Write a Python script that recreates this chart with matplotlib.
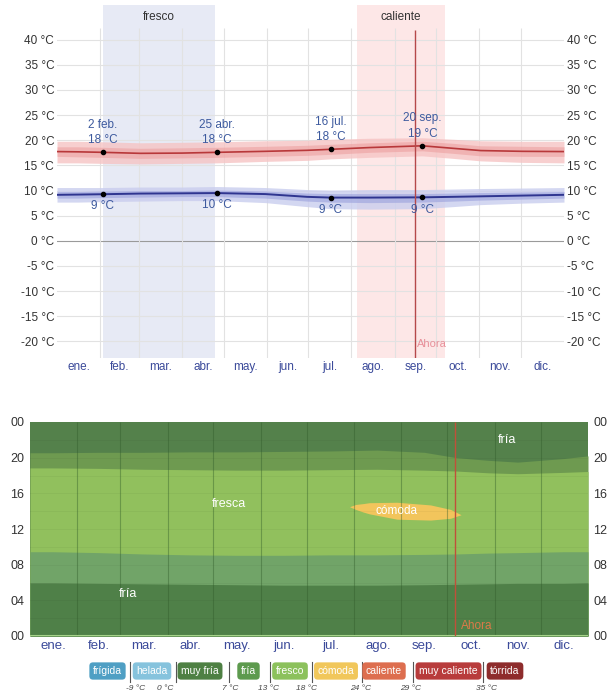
import matplotlib
matplotlib.use('Agg')
import matplotlib.pyplot as plt
from matplotlib.lines import Line2D

plt.rcParams['font.family'] = ['Liberation Sans', 'DejaVu Sans']

# ---------------- data ----------------
months = ['ene.', 'feb.', 'mar.', 'abr.', 'may.', 'jun.', 'jul.', 'ago.', 'sep.', 'oct.', 'nov.', 'dic.']
month_starts = [0, 31, 59, 90, 120, 151, 181, 212, 243, 273, 304, 334, 365]

# top chart: daily temperatures (°C) read at these days of year
t_days = [0, 15, 33, 60, 90, 115, 150, 180, 197, 225, 263, 285, 305, 335, 365]
high = [17.75, 17.7, 17.6, 17.4, 17.45, 17.6, 17.8, 18.0, 18.2, 18.55, 18.9, 18.4, 17.95, 17.8, 17.75]
high_p10 = [15.5, 15.5, 15.4, 15.3, 15.4, 15.5, 15.8, 16.0, 16.3, 16.6, 16.9, 16.4, 15.9, 15.6, 15.5]
high_p25 = [16.8, 16.7, 16.6, 16.4, 16.5, 16.6, 16.8, 17.0, 17.2, 17.6, 17.9, 17.4, 16.9, 16.8, 16.8]
high_p75 = [18.7, 18.7, 18.6, 18.4, 18.5, 18.6, 18.8, 19.0, 19.2, 19.5, 19.8, 19.4, 18.9, 18.8, 18.7]
high_p90 = [19.8, 19.8, 19.7, 19.5, 19.6, 19.7, 19.9, 20.0, 20.2, 20.4, 20.5, 20.2, 19.9, 19.8, 19.8]
low = [9.15, 9.2, 9.27, 9.4, 9.45, 9.5, 9.3, 8.75, 8.6, 8.6, 8.65, 8.75, 8.85, 9.0, 9.15]
low_p10 = [7.7, 7.7, 7.8, 7.9, 8.0, 8.0, 7.6, 6.8, 6.4, 6.3, 6.4, 6.8, 7.2, 7.5, 7.7]
low_p25 = [8.5, 8.5, 8.6, 8.7, 8.8, 8.8, 8.5, 7.9, 7.7, 7.6, 7.7, 7.9, 8.1, 8.3, 8.5]
low_p75 = [9.8, 9.8, 9.9, 10.0, 10.0, 10.1, 9.9, 9.5, 9.4, 9.4, 9.4, 9.5, 9.6, 9.7, 9.8]
low_p90 = [10.6, 10.6, 10.6, 10.7, 10.7, 10.8, 10.6, 10.2, 10.1, 10.2, 10.2, 10.3, 10.4, 10.5, 10.6]
key_idx = [2, 5, 8, 10]
key_labels = ['2 feb.', '25 abr.', '16 jul.', '20 sep.']
fresco_season = (33, 114)
caliente_season = (216, 279)
now_top = 258
now_bottom = 278

# bottom chart: boundaries between comfort bands (hour of day)
b_days = [0, 15, 45, 74, 105, 135, 166, 196, 227, 258, 279, 300, 319, 349, 365]
b1 = [5.95, 5.95, 5.9, 5.85, 5.8, 5.75, 5.7, 5.7, 5.7, 5.75, 5.8, 5.85, 5.9, 5.9, 5.95]
b2 = [9.45, 9.45, 9.35, 9.2, 9.1, 9.05, 9.05, 9.1, 9.1, 9.15, 9.2, 9.3, 9.35, 9.45, 9.45]
b3 = [18.85, 18.85, 18.8, 18.7, 18.65, 18.6, 18.6, 18.65, 18.7, 18.6, 18.5, 18.3, 18.2, 18.35, 18.45]
b4 = [20.55, 20.55, 20.6, 20.6, 20.65, 20.65, 20.7, 20.75, 20.85, 20.6, 20.0, 19.7, 19.5, 19.9, 20.2]
comoda_days = [209, 213, 218, 222, 240, 262, 275, 282]
comoda_top = [14.5, 14.75, 14.85, 14.95, 15.0, 14.7, 14.2, 13.6]
comoda_bot = [14.5, 14.2, 13.9, 13.7, 13.1, 13.0, 13.2, 13.6]

hour_ticks = [0, 4, 8, 12, 16, 20, 24]
hour_labels = ['00', '04', '08', '12', '16', '20', '00']

legend_names = ['frígida', 'helada', 'muy fría', 'fría', 'fresco', 'cómoda', 'caliente', 'muy caliente', 'tórrida']
legend_colors = ['#4f9fc4', '#86c3dd', '#4e8043', '#5d9a4e', '#8cc15c', '#f1c75b', '#dd6e4f', '#b83c3c', '#8e2c2c']
legend_temps = ['-9 °C', '0 °C', '7 °C', '13 °C', '18 °C', '24 °C', '29 °C', '35 °C']

# ---------------- figure ----------------
W, H = 611, 694
fig = plt.figure(figsize=(W / 100, H / 100), dpi=100)


def fx(px):
    return px / W


def fy(py):
    return 1 - py / H


mid_months = [(month_starts[i] + month_starts[i + 1]) / 2 for i in range(12)]

# ---------------- top chart ----------------
ax1 = fig.add_axes([fx(57), fy(358), fx(564) - fx(57), fy(5) - fy(358)])
ax1.set_xlim(0, 365)
ax1.set_ylim(-23.3, 46.9)
for s in ax1.spines.values():
    s.set_visible(False)

ax1.axvspan(*fresco_season, color='#e7eaf5', zorder=0, lw=0)
ax1.axvspan(*caliente_season, color='#fde7e7', zorder=0, lw=0)
ax1.text(sum(fresco_season) / 2, 44.6, 'fresco', ha='center', va='center', fontsize=8.5, color='#333333')
ax1.text(sum(caliente_season) / 2, 44.6, 'caliente', ha='center', va='center', fontsize=8.5, color='#333333')

yt = list(range(-20, 45, 5))
for t in yt:
    ax1.plot([0, 365], [t, t], color='#9a9a9a' if t == 0 else '#e2e2e2', lw=0.8, zorder=1)
for d in month_starts[1:-1]:
    ax1.vlines(d, -23.3, 42.3, color='#e2e2e2', lw=0.8, zorder=1)

ax1.fill_between(t_days, high_p10, high_p90, color='#f6c4c4', alpha=0.8, lw=0, zorder=2)
ax1.fill_between(t_days, high_p25, high_p75, color='#ec9c9c', alpha=0.55, lw=0, zorder=2)
ax1.fill_between(t_days, low_p10, low_p90, color='#c9cdee', alpha=0.8, lw=0, zorder=2)
ax1.fill_between(t_days, low_p25, low_p75, color='#9aa0dc', alpha=0.6, lw=0, zorder=2)
ax1.plot(t_days, high, color='#b8383a', lw=1.2, zorder=3)
ax1.plot(t_days, low, color='#2f3590', lw=1.4, zorder=3)

for i, lab in zip(key_idx, key_labels):
    d = t_days[i]
    ax1.scatter([d, d], [high[i], low[i]], s=9, color='black', zorder=5)
    ax1.annotate(f'{lab}\n{int(high[i] + 0.5)} °C', (d, high[i]), xytext=(0, 4.5),
                 textcoords='offset points', ha='center', va='bottom', fontsize=8.5,
                 color='#3d5a9e', linespacing=1.35, zorder=6)
    ax1.annotate(f'{int(low[i] + 0.5)} °C', (d, low[i]), xytext=(0, -4.5),
                 textcoords='offset points', ha='center', va='top', fontsize=8.5,
                 color='#3d5a9e', zorder=6)

ax1.vlines(now_top, -23.3, 42.0, color='#b5484a', lw=1.0, zorder=4)
ax1.text(now_top + 1, -20.5, 'Ahora', ha='left', va='center', fontsize=8, color='#e8909a', zorder=6)

ax1.set_yticks(yt)
ax1.set_yticklabels([f'{t} °C' for t in yt])
ax1.tick_params(axis='y', length=0, labelleft=True, labelright=True, labelsize=8.5,
                labelcolor='#333333', pad=2)
ax1.set_xticks(mid_months)
ax1.set_xticklabels(months)
ax1.tick_params(axis='x', length=0, labelsize=8.5, labelcolor='#3b4a9a', pad=2)

# ---------------- bottom chart ----------------
ax2 = fig.add_axes([fx(30), fy(636), fx(588) - fx(30), fy(422) - fy(636)])
ax2.set_xlim(0, 365)
ax2.set_ylim(0, 24)
for s in ax2.spines.values():
    s.set_visible(False)

ax2.fill_between(b_days, 0, 24, color='#54814b', lw=0, zorder=0)
ax2.fill_between(b_days, 0, b4, color='#6e9a50', lw=0, zorder=0)
ax2.fill_between(b_days, 0, b3, color='#91c05d', lw=0, zorder=0)
ax2.fill_between(b_days, 0, b2, color='#71a468', lw=0, zorder=0)
ax2.fill_between(b_days, 0, b1, color='#4f8048', lw=0, zorder=0)
ax2.fill_between(comoda_days, comoda_bot, comoda_top, color='#f2c55c', lw=0, zorder=1)

for h in range(2, 24, 2):
    ax2.plot([0, 365], [h, h], color='black', alpha=0.035, lw=0.8, zorder=2)
for d in month_starts[1:-1]:
    ax2.vlines(d, 0, 24, color='#2f5a28', alpha=0.4, lw=0.8, zorder=2)
ax2.plot([0, 365], [0.05, 0.05], color='#a6d38a', lw=1.5, zorder=2)

ax2.vlines(now_bottom, 0, 24, color='#c0503a', lw=1.0, zorder=3)
ax2.text(now_bottom + 4, 1.1, 'Ahora', ha='left', va='center', fontsize=8.5, color='#dc7a48', zorder=4)

ax2.text(240, 14.0, 'cómoda', ha='center', va='center', fontsize=8.5, color='white', zorder=4)
ax2.text(130, 14.8, 'fresca', ha='center', va='center', fontsize=9, color='white', zorder=4)
ax2.text(312, 22.0, 'fría', ha='center', va='center', fontsize=9, color='white', zorder=4)
ax2.text(64, 4.7, 'fría', ha='center', va='center', fontsize=9, color='white', zorder=4)

ax2.set_yticks(hour_ticks)
ax2.set_yticklabels(hour_labels)
ax2.tick_params(axis='y', length=0, labelleft=True, labelright=True, labelsize=9,
                labelcolor='#333333', pad=4)
ax2.set_xticks(mid_months)
ax2.set_xticklabels(months)
ax2.tick_params(axis='x', length=0, labelsize=9.5, labelcolor='#3b4a9a', pad=3)

# ---------------- legend ----------------
legend_x = [107.5, 152, 200, 248.5, 290, 336, 384, 448.5, 505]
sep_x = [130, 176, 229, 270, 312, 362, 413, 483]
temp_x = [136, 165, 230, 268, 307, 361, 411, 487]
for x, name, c in zip(legend_x, legend_names, legend_colors):
    fig.text(fx(x), fy(671), name, ha='center', va='center', fontsize=7.5, color='white',
             bbox=dict(boxstyle='round,pad=0.35,rounding_size=0.35', fc=c, ec='none'))
for x in sep_x:
    fig.add_artist(Line2D([fx(x), fx(x)], [fy(662), fy(682)], color='#555555', lw=0.8))
for x, t in zip(temp_x, legend_temps):
    fig.text(fx(x), fy(689), t, ha='center', va='center', fontsize=6, style='italic', color='#444444')

fig.savefig('out.png', dpi=100)
